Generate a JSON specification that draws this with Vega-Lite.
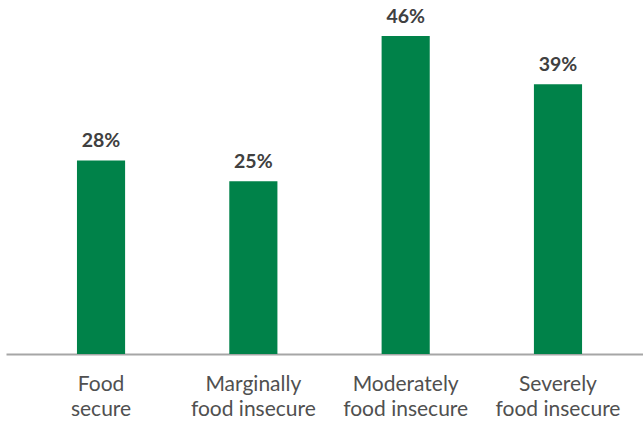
{
  "$schema": "https://vega.github.io/schema/vega-lite/v6.json",
  "autosize": {"type": "none"},
  "padding": {"left": 6, "top": 0, "right": 0, "bottom": 69},
  "width": 637,
  "height": 354,
  "background": "white",
  "config": {"view": {"stroke": null}, "font": "Lato"},
  "data": {"values": [
    {"cat": "Food|secure", "pct": 28},
    {"cat": "Marginally|food insecure", "pct": 25},
    {"cat": "Moderately|food insecure", "pct": 46},
    {"cat": "Severely|food insecure", "pct": 39}
  ]},
  "encoding": {
    "x": {"field": "cat", "type": "nominal", "sort": null,
      "scale": {"paddingInner": 0.684, "paddingOuter": 0.433, "align": 0.538},
      "axis": {"title": null, "labelAngle": 0, "ticks": false, "domainColor": "#a6a6a6", "domainWidth": 2,
        "labelExpr": "split(datum.value, '|')", "labelFontSize": 21, "labelColor": "#505050",
        "labelPadding": 30, "labelLineHeight": 25, "labelFont": "Lato", "labelBaseline": "middle"}},
    "y": {"field": "pct", "type": "quantitative", "scale": {"domain": [0, 51.2], "nice": false}, "axis": null}
  },
  "layer": [
    {"mark": {"type": "bar", "color": "#008249"}},
    {"mark": {"type": "text", "baseline": "bottom", "dy": -9, "fontSize": 19.5, "fontWeight": "bold", "color": "#404040", "font": "Lato"},
     "encoding": {"text": {"field": "lbl"}},
     "transform": [{"calculate": "datum.pct + '%'", "as": "lbl"}]}
  ]
}
